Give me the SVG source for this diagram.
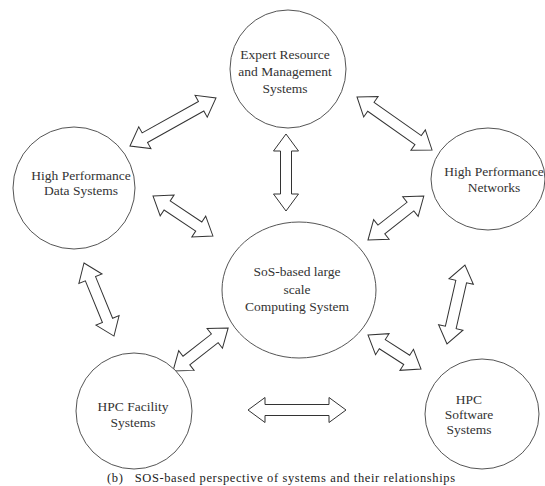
<svg xmlns="http://www.w3.org/2000/svg" width="545" height="486" viewBox="0 0 545 486">
<style>
.node{fill:#fff;stroke:#555;stroke-width:1}
.lbl{font-family:"Liberation Serif","Times New Roman",serif;font-size:13.5px;fill:#333;text-anchor:middle}
.arr{fill:#fff;stroke:#333;stroke-width:1;stroke-linejoin:miter}
.cap{font-family:"Liberation Serif","Times New Roman",serif;font-size:12.5px;fill:#222}
</style>
<rect width="545" height="486" fill="#fff"/>
<g id="connectors">
<path class="arr" transform="translate(130,146) rotate(-29.2)" d="M0,0 L17,-12.5 L17,-5.5 L81.5,-5.5 L81.5,-12.5 L98.5,0 L81.5,12.5 L81.5,5.5 L17,5.5 L17,12.5 Z"/>
<path class="arr" transform="translate(357,97) rotate(35.2)" d="M0,0 L17,-12.5 L17,-5.5 L74.8,-5.5 L74.8,-12.5 L91.8,0 L74.8,12.5 L74.8,5.5 L17,5.5 L17,12.5 Z"/>
<path class="arr" transform="translate(286,134) rotate(90)" d="M0,0 L17,-12.5 L17,-5.5 L60,-5.5 L60,-12.5 L77,0 L60,12.5 L60,5.5 L17,5.5 L17,12.5 Z"/>
<path class="arr" transform="translate(153,196) rotate(33.7)" d="M0,0 L17,-12.5 L17,-5.5 L55,-5.5 L55,-12.5 L72,0 L55,12.5 L55,5.5 L17,5.5 L17,12.5 Z"/>
<path class="arr" transform="translate(368,240) rotate(-38.2)" d="M0,0 L17,-12.5 L17,-5.5 L54,-5.5 L54,-12.5 L71,0 L54,12.5 L54,5.5 L17,5.5 L17,12.5 Z"/>
<path class="arr" transform="translate(84,263) rotate(67.7)" d="M0,0 L17,-12.5 L17,-5.5 L62,-5.5 L62,-12.5 L79,0 L62,12.5 L62,5.5 L17,5.5 L17,12.5 Z"/>
<path class="arr" transform="translate(173,371) rotate(-38)" d="M0,0 L17,-12.5 L17,-5.5 L53,-5.5 L53,-12.5 L70,0 L53,12.5 L53,5.5 L17,5.5 L17,12.5 Z"/>
<path class="arr" transform="translate(368,335) rotate(32.7)" d="M0,0 L17,-12.5 L17,-5.5 L46,-5.5 L46,-12.5 L63,0 L46,12.5 L46,5.5 L17,5.5 L17,12.5 Z"/>
<path class="arr" transform="translate(447,344) rotate(-77.2)" d="M0,0 L17,-12.5 L17,-5.5 L64,-5.5 L64,-12.5 L81,0 L64,12.5 L64,5.5 L17,5.5 L17,12.5 Z"/>
<path class="arr" transform="translate(248,410)" d="M0,0 L17,-12.5 L17,-5.5 L81,-5.5 L81,-12.5 L98,0 L81,12.5 L81,5.5 L17,5.5 L17,12.5 Z"/>
</g>
<g id="expert">
<ellipse class="node" cx="288" cy="69" rx="58" ry="59"/>
<text class="lbl" x="285" y="59">Expert Resource</text>
<text class="lbl" x="285" y="76">and Management</text>
<text class="lbl" x="285" y="93">Systems</text>
</g>
<g id="data">
<ellipse class="node" cx="74" cy="188" rx="61" ry="61"/>
<text class="lbl" x="81" y="180">High Performance</text>
<text class="lbl" x="81" y="195">Data Systems</text>
</g>
<g id="networks">
<ellipse class="node" cx="488" cy="179" rx="57" ry="51"/>
<text class="lbl" x="494" y="176">High Performance</text>
<text class="lbl" x="494" y="192">Networks</text>
</g>
<g id="center">
<ellipse class="node" cx="299" cy="290" rx="77" ry="68"/>
<text class="lbl" x="297" y="276">SoS-based large</text>
<text class="lbl" x="297" y="294">scale</text>
<text class="lbl" x="297" y="311">Computing System</text>
</g>
<g id="facility">
<ellipse class="node" cx="134" cy="411" rx="58" ry="58"/>
<text class="lbl" x="133" y="411">HPC Facility</text>
<text class="lbl" x="133" y="427">Systems</text>
</g>
<g id="software">
<ellipse class="node" cx="482" cy="414" rx="57" ry="55"/>
<text class="lbl" x="469" y="404">HPC</text>
<text class="lbl" x="469" y="419">Software</text>
<text class="lbl" x="469" y="434">Systems</text>
</g>
<text class="cap" x="107" y="482" textLength="348" lengthAdjust="spacing" xml:space="preserve">(b)   SOS-based perspective of systems and their relationships</text>
</svg>
